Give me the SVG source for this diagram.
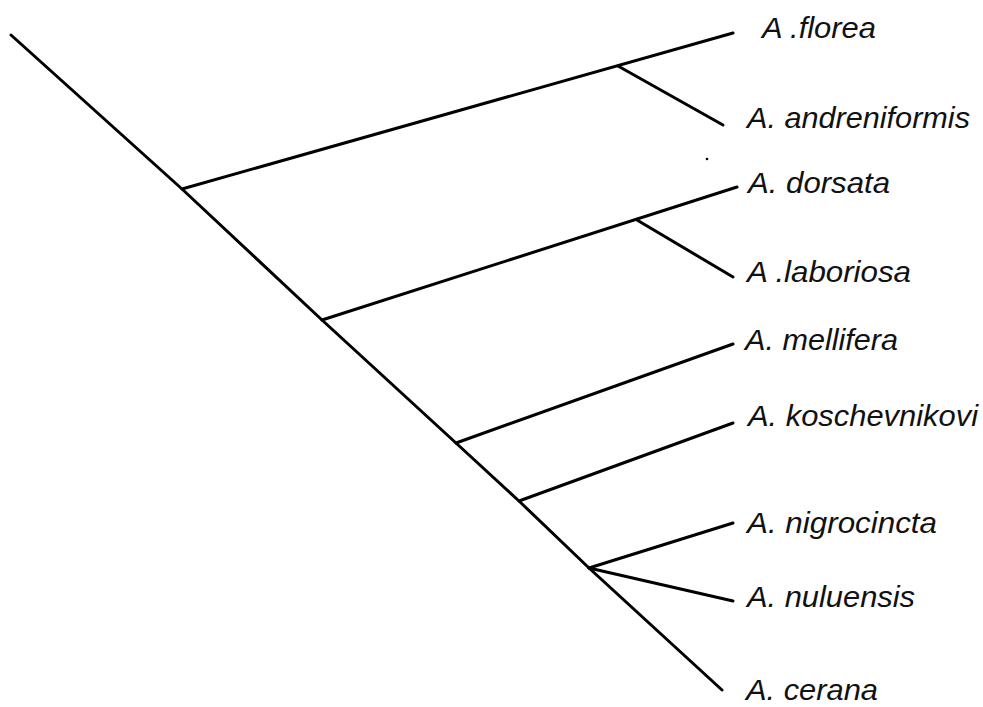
<svg xmlns="http://www.w3.org/2000/svg" width="983" height="707" viewBox="0 0 983 707">
<style>
.br{fill:none;stroke:#000;stroke-width:3;stroke-linecap:round;stroke-linejoin:round}
.lb{font-family:"Liberation Sans",Arial,sans-serif;font-style:italic;font-size:30px;fill:#111}
</style>
<rect width="983" height="707" fill="#fff"/>
<g id="connectors">
<polyline class="br" points="11,35 182,189 322,320 456,443 519,501 589,568 722,690"/>
<line class="br" x1="182" y1="189" x2="733" y2="33"/>
<line class="br" x1="618" y1="66" x2="723" y2="125"/>
<line class="br" x1="322" y1="320" x2="737" y2="187"/>
<line class="br" x1="637" y1="220" x2="733" y2="277"/>
<line class="br" x1="456" y1="443" x2="733" y2="344"/>
<line class="br" x1="519" y1="501" x2="733" y2="423"/>
<line class="br" x1="589" y1="568" x2="733" y2="523"/>
<line class="br" x1="589" y1="568" x2="733" y2="601"/>
</g>
<circle cx="707" cy="159" r="1.3" fill="#000"/>
<g id="florea"><text class="lb" x="762" y="38" textLength="114" lengthAdjust="spacingAndGlyphs">A .florea</text></g>
<g id="andreniformis"><text class="lb" x="747" y="128" textLength="223" lengthAdjust="spacingAndGlyphs">A. andreniformis</text></g>
<g id="dorsata"><text class="lb" x="748" y="193" textLength="142" lengthAdjust="spacingAndGlyphs">A. dorsata</text></g>
<g id="laboriosa"><text class="lb" x="747" y="282" textLength="164" lengthAdjust="spacingAndGlyphs">A .laboriosa</text></g>
<g id="mellifera"><text class="lb" x="745" y="350" textLength="153" lengthAdjust="spacingAndGlyphs">A. mellifera</text></g>
<g id="koschevnikovi"><text class="lb" x="748" y="426" textLength="230" lengthAdjust="spacingAndGlyphs">A. koschevnikovi</text></g>
<g id="nigrocincta"><text class="lb" x="747" y="533" textLength="190" lengthAdjust="spacingAndGlyphs">A. nigrocincta</text></g>
<g id="nuluensis"><text class="lb" x="747" y="607" textLength="168" lengthAdjust="spacingAndGlyphs">A. nuluensis</text></g>
<g id="cerana"><text class="lb" x="746" y="700" textLength="132" lengthAdjust="spacingAndGlyphs">A. cerana</text></g>
</svg>
